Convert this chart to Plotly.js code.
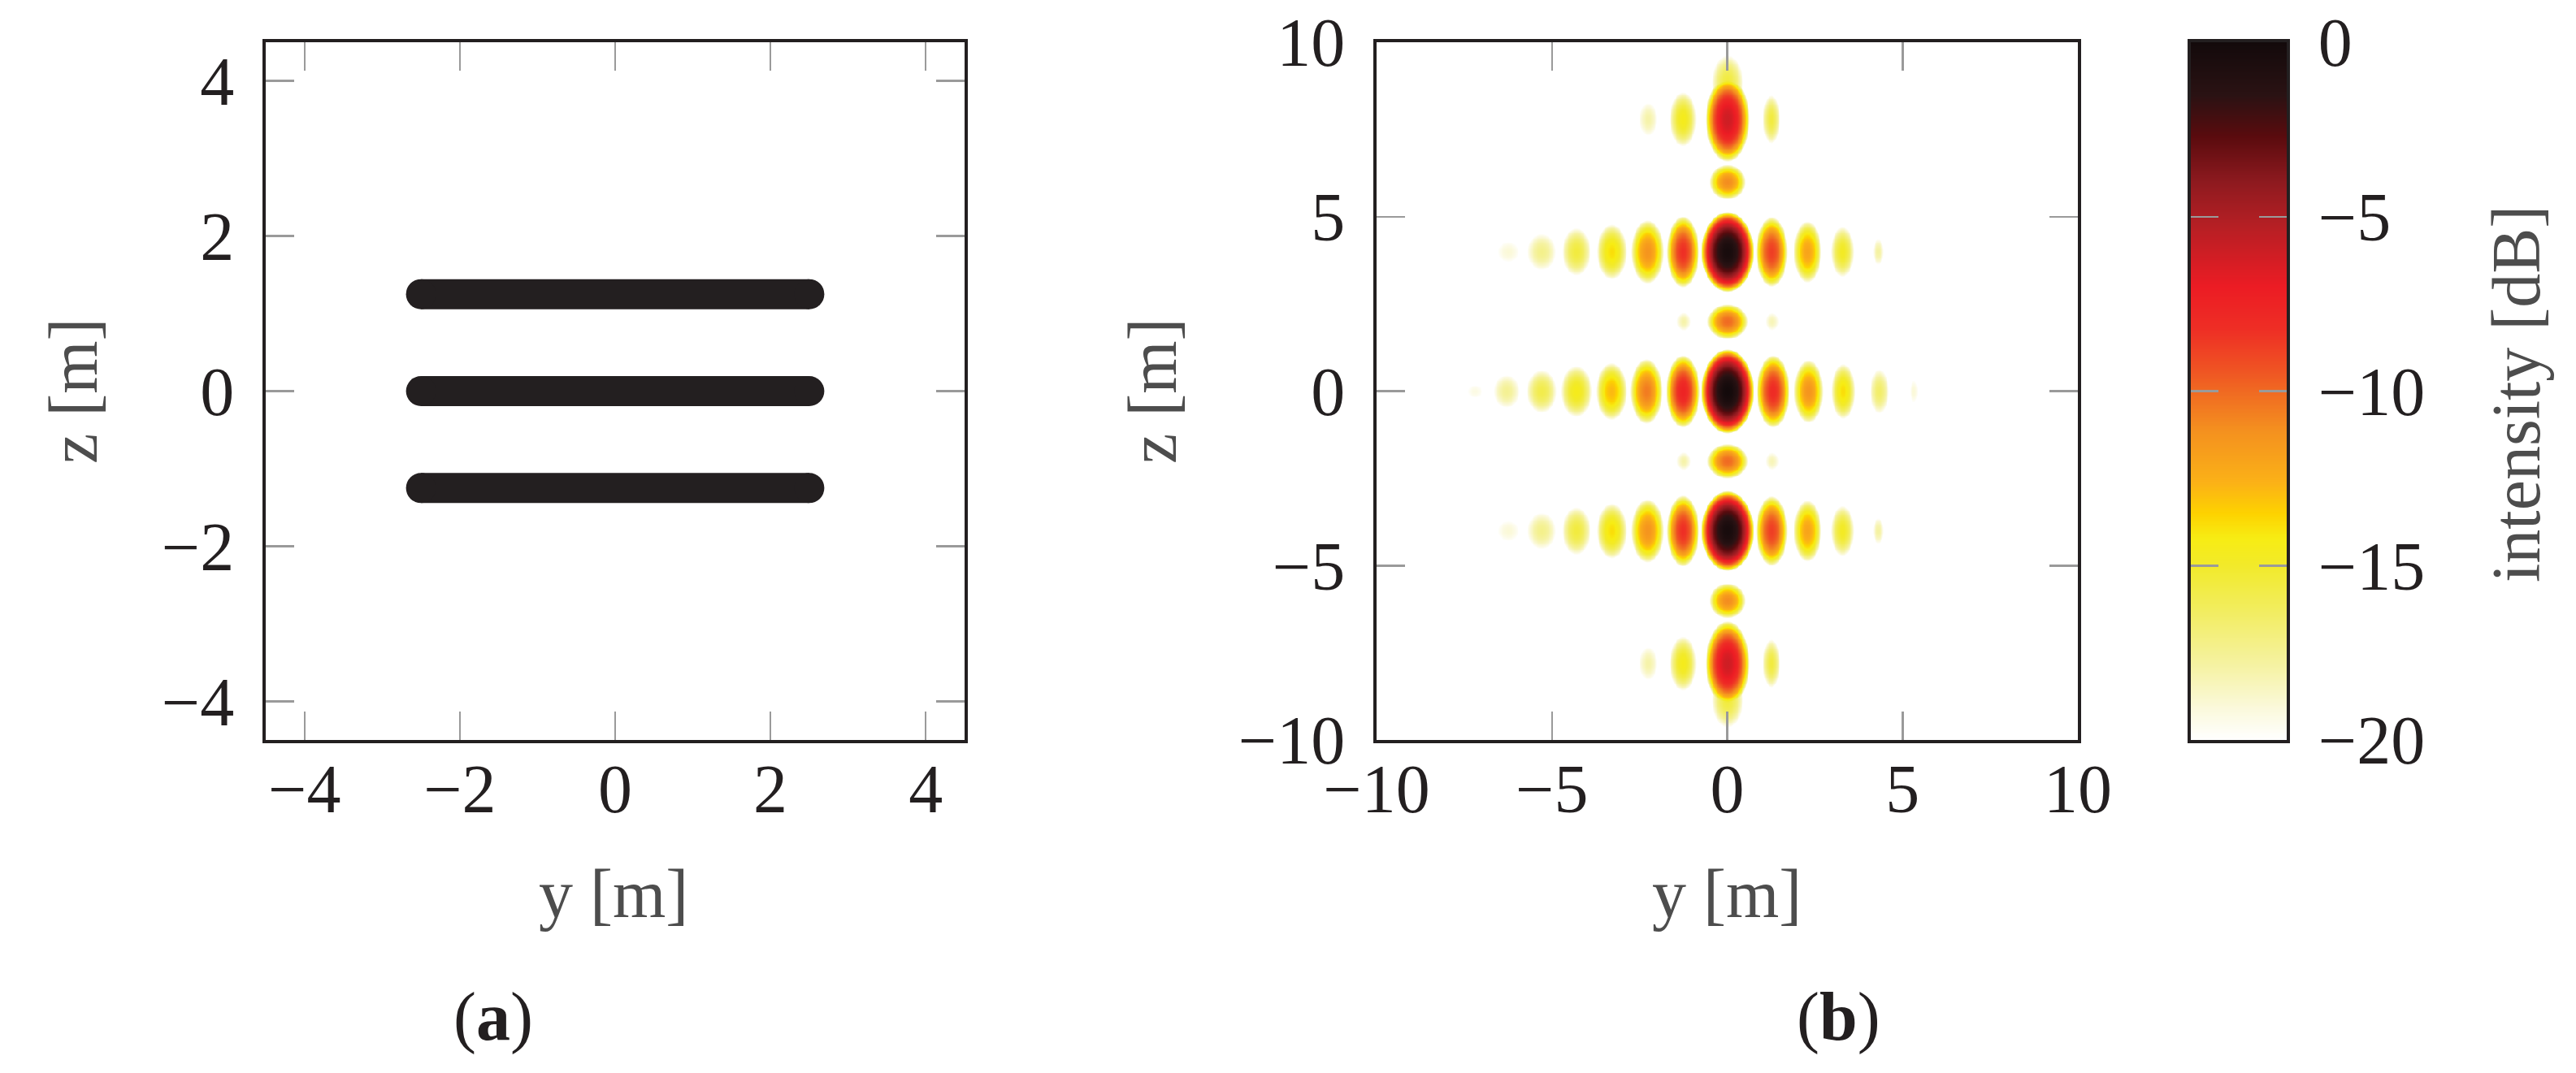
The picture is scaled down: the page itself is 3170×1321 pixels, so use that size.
<!DOCTYPE html>
<html>
<head>
<meta charset="utf-8">
<script src="https://cdn.plot.ly/plotly-3.0.1.min.js"></script>
<style>
html, body { margin: 0; padding: 0; background: #ffffff; }
#chart { width: 3170px; height: 1321px; }
</style>
</head>
<body>
<div id="chart"></div>
<script>
// ---------------- Panel (a): three horizontal line sources ----------------
const sourceRowZ   = [1.25, 0, -1.25];
const sourceStartY = [-2.5, -2.5, -2.5];
const sourceEndY   = [2.5, 2.5, 2.5];

// ---------------- Panel (b): intensity lobes ----------------
// centre y [m], centre z [m], peak level [dB], half width / half height of the -20 dB contour [m]
const lobeY = [
  // row z = 0
  0, -1.27, 1.30, -2.31, 2.31, -3.31, 3.30, -4.31, 4.33, -5.30, 5.31, -6.30, -7.20,
  // row z = 4
  0, -1.27, 1.26, -2.28, 2.28, -3.30, 3.28, -4.31, 4.30, -5.30, -6.25,
  // row z = -4
  0, -1.27, 1.26, -2.28, 2.28, -3.30, 3.28, -4.31, 4.30, -5.30, -6.25,
  // rows z = 2, -2
  0, -1.25, 1.27,
  0, -1.25, 1.27,
  // rows z = 6, -6
  0,
  0,
  // row z = 8 (main lobe, its outer tail, side lobes)
  0, 0, -1.27, 1.25, -2.26,
  // row z = -8
  0, 0, -1.27, 1.25, -2.26
];
const lobeZ = [
  0, 0, 0, 0, 0, 0, 0, 0, 0, 0, 0, 0, 0,
  4.0, 4.0, 4.0, 4.0, 4.0, 4.0, 4.0, 4.0, 4.0, 4.0, 4.0,
  -4.0, -4.0, -4.0, -4.0, -4.0, -4.0, -4.0, -4.0, -4.0, -4.0, -4.0,
  2.0, 2.0, 2.0,
  -2.0, -2.0, -2.0,
  6.0,
  -6.0,
  7.8, 8.85, 7.8, 7.8, 7.8,
  -7.8, -8.85, -7.8, -7.8, -7.8
];
const lobePeakDb = [
  0, -7.5, -8.0, -10.5, -11.3, -12.8, -13.8, -14.5, -16.5, -15.8, -19.0, -17.5, -19.3,
  -0.3, -8.2, -8.7, -11.3, -12.0, -13.8, -14.8, -15.5, -17.8, -17.3, -19.0,
  -0.3, -8.2, -8.7, -11.3, -12.0, -13.8, -14.8, -15.5, -17.8, -17.3, -19.0,
  -10.0, -18.0, -18.3,
  -10.0, -18.0, -18.3,
  -11.0,
  -11.0,
  -6.0, -15.5, -14.5, -15.5, -18.0,
  -6.0, -15.5, -14.5, -15.5, -18.0
];
const lobeHalfW = [
  0.75, 0.48, 0.47, 0.46, 0.42, 0.44, 0.34, 0.45, 0.27, 0.43, 0.11, 0.37, 0.21,
  0.75, 0.46, 0.45, 0.47, 0.40, 0.43, 0.33, 0.41, 0.15, 0.41, 0.30,
  0.75, 0.46, 0.45, 0.47, 0.40, 0.43, 0.33, 0.41, 0.15, 0.41, 0.30,
  0.58, 0.20, 0.19,
  0.58, 0.20, 0.19,
  0.52,
  0.52,
  0.63, 0.45, 0.38, 0.25, 0.26,
  0.63, 0.45, 0.38, 0.25, 0.26
];
const lobeHalfH = [
  1.21, 1.04, 1.04, 0.93, 0.90, 0.82, 0.79, 0.73, 0.63, 0.61, 0.31, 0.47, 0.18,
  1.15, 1.02, 1.00, 0.91, 0.88, 0.79, 0.72, 0.68, 0.37, 0.52, 0.29,
  1.15, 1.02, 1.00, 0.91, 0.88, 0.79, 0.72, 0.68, 0.37, 0.52, 0.29,
  0.50, 0.26, 0.25,
  0.50, 0.26, 0.25,
  0.50,
  0.50,
  1.22, 0.78, 0.78, 0.69, 0.47,
  1.22, 0.78, 0.78, 0.69, 0.47
];

// colour scale (intensity -20 dB ... 0 dB)
const colorscaleStops  = [0, 0.045, 0.11, 0.185, 0.25, 0.29, 0.325, 0.37, 0.445, 0.5, 0.535, 0.59, 0.65, 0.74, 0.8, 0.865, 0.925, 1];
const colorscaleColors = ['#ffffff', '#fbf9dc', '#f5f2a0', '#f2ed60', '#f2ea2a', '#f7ec13', '#fdd200', '#fbb117', '#f4901f',
                          '#f06a22', '#ef5123', '#ee2e25', '#ec1c24', '#b41f24', '#8e1a1f', '#5a0b0e', '#2a1213', '#130a0b'];
const colorbarLevelsDb = [-20, -15, -10, -5, 0];

// tick labels
const ticksA = [-4, -2, 0, 2, 4];
const ticksB = [-10, -5, 0, 5, 10];
const ticksCbar = [0, -5, -10, -15, -20];

// ---------------- build the intensity grid from the lobe table ----------------
const N = 501;
const gridY = [], gridZ = [];
for (let i = 0; i < N; i++) { gridY.push(-10 + i * 0.04); gridZ.push(-10 + i * 0.04); }
const FLOOR = -40;
const zMat = gridZ.map(() => new Array(N).fill(FLOOR));
lobeY.forEach((y0, k) => {
  const z0 = lobeZ[k], p = lobePeakDb[k], hw = lobeHalfW[k], hh = lobeHalfH[k];
  const a = Math.acos(Math.sqrt(Math.pow(10, (-20 - p) / 10)));
  const rN = (Math.PI / 2) / a;
  for (let j = 0; j < N; j++) {
    const dz = (gridZ[j] - z0) / hh;
    if (Math.abs(dz) >= rN) continue;
    for (let i = 0; i < N; i++) {
      const dy = (gridY[i] - y0) / hw;
      if (Math.abs(dy) >= rN) continue;
      const r = Math.sqrt(dy * dy + dz * dz);
      if (a * r >= Math.PI / 2) continue;
      const c = Math.cos(a * r);
      const v = p + 10 * Math.log10(c * c);
      if (v > zMat[j][i]) zMat[j][i] = v;
    }
  }
});

// ---------------- traces ----------------
const lineX = [], lineZ = [];
sourceRowZ.forEach((z, k) => {
  lineX.push(sourceStartY[k], sourceEndY[k], null);
  lineZ.push(z, z, null);
});

const colorscale = colorscaleStops.map((s, k) => [s, colorscaleColors[k]]);

const traces = [
  {
    type: 'scatter', mode: 'lines+markers', x: lineX, y: lineZ,
    xaxis: 'x', yaxis: 'y',
    line: { color: '#231f20', width: 37 },
    marker: { color: '#231f20', size: 37 },
    connectgaps: false, hoverinfo: 'skip'
  },
  {
    type: 'heatmap', x: gridY, y: gridZ, z: zMat,
    xaxis: 'x2', yaxis: 'y2', coloraxis: 'coloraxis', zsmooth: 'best', hoverinfo: 'skip'
  },
  {
    type: 'heatmap', x: [0, 1], y: colorbarLevelsDb, z: colorbarLevelsDb.map(v => [v, v]),
    xaxis: 'x3', yaxis: 'y3', coloraxis: 'coloraxis', zsmooth: 'best', hoverinfo: 'skip'
  }
];

// ---------------- layout ----------------
const W = 3170, H = 1321;
const fx = p => p / W;
const fy = p => (H - p) / H;
const FONT = 'Liberation Serif, serif';
const INK = '#231f20';
const LABEL = '#4d4d4d';

const axBase = {
  showgrid: false, zeroline: false, showline: true, linecolor: INK, linewidth: 4,
  mirror: 'ticks', ticks: 'inside', ticklen: 35, tickwidth: 2.5, tickcolor: '#9a9a9a',
  tickfont: { family: FONT, size: 84, color: INK }, fixedrange: true
};
const xStandoff = -16, yStandoff = 18;

const plotTop = 52, plotBottom = 911;

const layout = {
  width: W, height: H,
  margin: { l: 0, r: 0, t: 0, b: 0, pad: 0 },
  paper_bgcolor: '#ffffff', plot_bgcolor: '#ffffff',
  showlegend: false,
  coloraxis: { colorscale: colorscale, cmin: -20, cmax: 0, showscale: false },
  xaxis: Object.assign({}, axBase, { domain: [fx(327), fx(1187)], range: [-4.5, 4.5], tickvals: ticksA, ticklabelstandoff: xStandoff, anchor: 'y' }),
  yaxis: Object.assign({}, axBase, { domain: [fy(plotBottom), fy(plotTop)], range: [-4.5, 4.5], tickvals: ticksA, ticklabelstandoff: yStandoff, anchor: 'x' }),
  xaxis2: Object.assign({}, axBase, { domain: [fx(1694), fx(2557)], range: [-10, 10], tickvals: ticksB, ticklabelstandoff: xStandoff, anchor: 'y2' }),
  yaxis2: Object.assign({}, axBase, { domain: [fy(plotBottom), fy(plotTop)], range: [-10, 10], tickvals: ticksB, ticklabelstandoff: yStandoff, anchor: 'x2' }),
  xaxis3: Object.assign({}, axBase, { domain: [fx(2696), fx(2814)], range: [0, 1], ticks: '', showticklabels: false, mirror: true, anchor: 'y3' }),
  yaxis3: Object.assign({}, axBase, { domain: [fy(plotBottom), fy(plotTop)], range: [-20, 0], tickvals: ticksCbar, side: 'right', ticklen: 34, ticklabelstandoff: 18, anchor: 'x3' }),
  annotations: [
    { text: 'z [m]', x: fx(90), y: fy(481), textangle: -90 },
    { text: 'z [m]', x: fx(1418), y: fy(481), textangle: -90 },
    { text: 'y [m]', x: fx(755), y: fy(1100) },
    { text: 'y [m]', x: fx(2125), y: fy(1100) },
    { text: 'intensity [dB]', x: fx(3097), y: fy(485), textangle: -90 },
    { text: '(<b>a</b>)', x: fx(607), y: fy(1252), font: { family: FONT, size: 84, color: INK } },
    { text: '(<b>b</b>)', x: fx(2262), y: fy(1252), font: { family: FONT, size: 84, color: INK } }
  ].map(a => Object.assign({
    xref: 'paper', yref: 'paper', showarrow: false, xanchor: 'center', yanchor: 'middle',
    font: { family: FONT, size: 84, color: LABEL }
  }, a))
};

Plotly.newPlot('chart', traces, layout, { staticPlot: true, displayModeBar: false });
</script>
</body>
</html>
